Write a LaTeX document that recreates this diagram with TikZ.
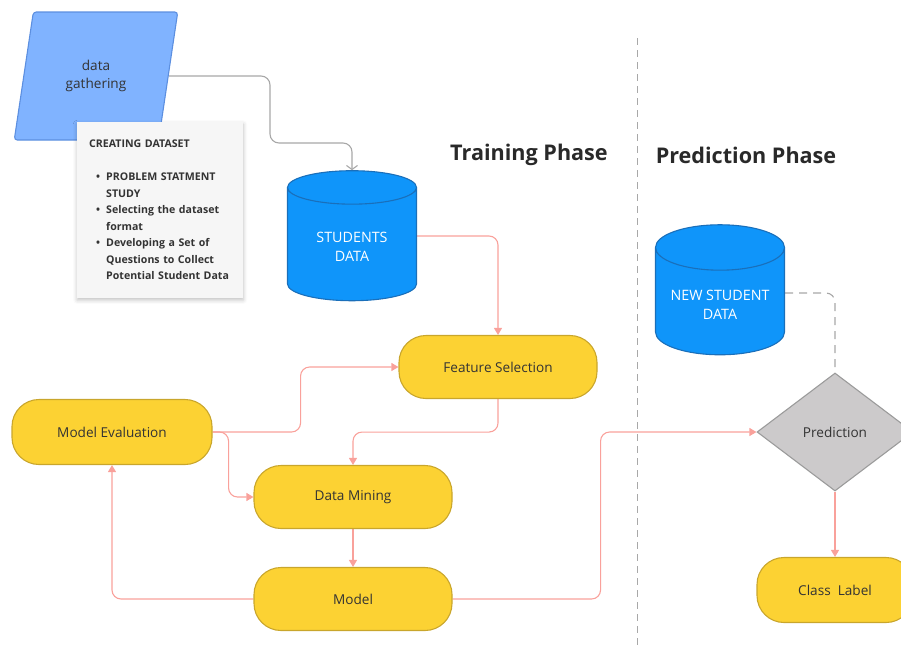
\documentclass[tikz,border=0pt]{standalone}
\usepackage{fontspec}
\setmainfont{Open Sans}
\usepackage{tikz}
\usetikzlibrary{backgrounds}
\usetikzlibrary{arrows.meta}
\usetikzlibrary{calc,shadows.blur,positioning}
\usetikzlibrary{shapes.geometric}

\definecolor{procfill}{HTML}{FCD233}
\definecolor{procline}{HTML}{C9A62C}
\definecolor{storefill}{HTML}{0F95FA}
\definecolor{storeline}{HTML}{1A6FBA}
\definecolor{gatherfill}{HTML}{80B3FF}
\definecolor{gatherline}{HTML}{5C8FE0}
\definecolor{decidefill}{HTML}{CCCACB}
\definecolor{decideline}{HTML}{9B9B9B}
\definecolor{linkred}{HTML}{F9A19B}
\definecolor{linkgray}{HTML}{A8A8A8}
\definecolor{cardfill}{HTML}{F6F6F6}
\definecolor{inktext}{HTML}{333333}

\newcommand{\cardpoint}[1]{\par\hangindent=17pt\hangafter=1\noindent\hspace*{7pt}\makebox[10pt][l]{\textbullet}#1\par}

\begin{document}
\begin{tikzpicture}[x=1pt, y=-1pt,
    proc/.style={draw=procline, fill=procfill, line width=1.1pt, rounded corners=27pt,
      minimum width=198pt, minimum height=63pt, text=inktext, font=\fontsize{13.6}{16}\selectfont},
    store/.style={cylinder, shape border rotate=90, aspect=0.43, draw=storeline, fill=storefill,
      line width=1.1pt, minimum width=129pt, minimum height=130pt, text=white, align=center,
      font=\fontsize{14.3}{18.5}\selectfont},
    gather/.style={trapezium, trapezium left angle=75, trapezium right angle=105, trapezium stretches=true,
      minimum width=165pt, minimum height=128pt, draw=gatherline, fill=gatherfill, line width=1.1pt,
      rounded corners=3pt, align=center, text=inktext, font=\fontsize{13.6}{18}\selectfont},
    decide/.style={diamond, draw=decideline, fill=decidefill, line width=1.1pt,
      minimum width=156pt, minimum height=118pt, text=inktext, font=\fontsize{13.6}{16}\selectfont},
    card/.style={fill=cardfill, text width=142pt, inner xsep=12pt, inner ysep=18pt, text=inktext,
      font=\fontsize{10.6}{16.5}\selectfont\bfseries,
      blur shadow={shadow xshift=0pt, shadow yshift=-2pt, shadow blur radius=4pt, shadow opacity=25}},
    phase/.style={text=inktext!80!black, font=\fontsize{21.6}{24}\selectfont\bfseries},
    link/.style={draw=linkred, line width=1.1pt, rounded corners=9pt, -{Triangle[length=7pt,width=8pt]}},
  ]
  \useasboundingbox (0,0) rectangle (901,646);

  \node[gather] (dgat) at (96,76) {data\\gathering};
  \node[card, anchor=north west] (dset) at (77,122) {%
    CREATING DATASET\par\vspace{16.5pt}
    \cardpoint{PROBLEM STATMENT\newline STUDY}
    \cardpoint{Selecting the dataset\newline format}
    \cardpoint{Developing a Set of\newline Questions to Collect\newline Potential Student Data}};

  \node[store] (sdata) at (352,247) {STUDENTS\\DATA};
  \node[store] (ndata) at (720,305) {NEW STUDENT\\DATA};

  \node[phase] (train) at (529,155) {Training Phase};
  \node[phase] (predict) at (746,155) {Prediction Phase};

  \node[proc] (fsel) at (498,367) {Feature Selection};
  \node[proc, minimum width=200pt, minimum height=65pt] (meval) at (112,432) {Model Evaluation};
  \node[proc] (dmin) at (353,497) {Data Mining};
  \node[proc] (model) at (353,599) {Model};
  \node[decide] (pred) at (835,432) {Prediction};
  \node[proc, minimum width=156pt, minimum height=65pt] (clabel) at (835,590) {Class\ \ Label};

  \coordinate (bend) at (270,143);
  \coordinate (sep top) at (637,38);
  \coordinate (sep bot) at (637,646);

  \begin{scope}[on background layer]
    \draw[linkgray, line width=1.1pt, rounded corners=9pt, -{Straight Barb[length=4pt,width=11pt]}]
      (dgat.east) -| (bend) -| (sdata.north);
    \draw[linkgray, line width=1pt, dash pattern=on 7pt off 5pt] (sep top) -- (sep bot);
    \draw[linkgray, line width=1.1pt, dash pattern=on 8pt off 6pt, rounded corners=9pt]
      ([yshift=12pt]ndata.east) -| (pred.north);
    \draw[link] ([yshift=11pt]sdata.east) -| (fsel.north);
    \draw[link] (meval.east) -- ++(88,0) |- (fsel.west);
    \draw[link] (meval.east) -- ++(16,0) |- (dmin.west);
    \draw[link] (fsel.south) -- ++(0,33) -| (dmin.north);
    \draw[link] (dmin) -- (model);
    \draw[link] (model.west) -| (meval.south);
    \draw[link] (model.east) -- ++(148,0) |- (pred.west);
    \draw[link] (pred.south) -- (clabel.north);
  \end{scope}
\end{tikzpicture}
\end{document}
